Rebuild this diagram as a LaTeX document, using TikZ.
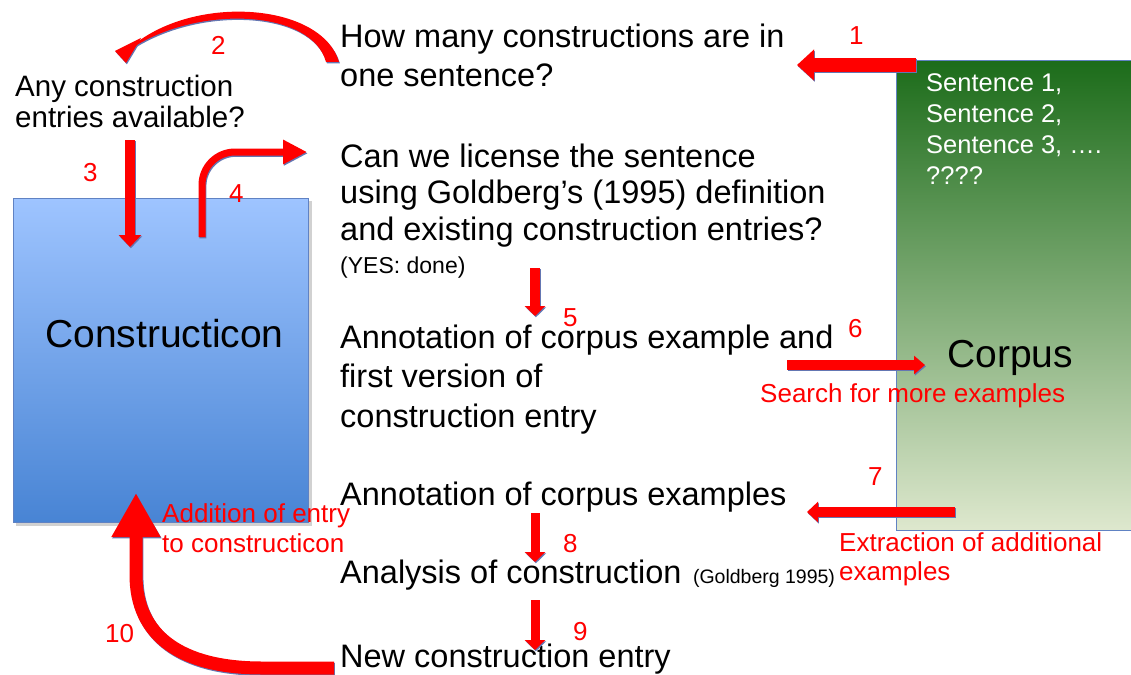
\documentclass[tikz,border=0pt]{standalone}
\usepackage{fontspec}
\setmainfont{Liberation Sans}
\usetikzlibrary{arrows.meta}

\definecolor{arrowred}{RGB}{255,0,0}
\definecolor{edgeblue}{RGB}{96,130,195}
\definecolor{shadowcol}{RGB}{100,118,178}
\definecolor{ctop}{RGB}{158,196,255}
\definecolor{cbot}{RGB}{72,132,212}
\definecolor{gtop}{RGB}{28,108,26}
\definecolor{gmid}{RGB}{138,178,98}
\definecolor{gbot}{RGB}{222,232,206}

% several lines in one box; the box baseline is that of the first line
\newcommand\mlines[2]{\vtop{\baselineskip=#1\relax\lineskiplimit=-100pt\lineskip=0pt #2}}

% red block arrow with a thin bluish shadow edge
\newcommand\blockarrow[4]{%
  \draw[shadowcol, line width=#1, -{Triangle[width=#2, length=#3]},
        transform canvas={shift={(0.9,1.3)}}] #4;
  \draw[arrowred, line width=#1, -{Triangle[width=#2, length=#3]}] #4;
}

\tikzset{
  txt/.style={anchor=base west, inner sep=0pt, font=\fontsize{32.5}{38}\selectfont},
  smalltxt/.style={anchor=base west, inner sep=0pt},
  redtxt/.style={anchor=base west, inner sep=0pt, text=arrowred, font=\fontsize{26}{30}\selectfont},
  num/.style={redtxt},
  bigtxt/.style={anchor=base west, inner sep=0pt, font=\fontsize{39}{45}\selectfont},
  boxnode/.style={anchor=north west, inner sep=0pt, draw=edgeblue, line width=0.9pt}
}

\begin{document}
\begin{tikzpicture}[x=1pt, y=-1pt]
\useasboundingbox (0,0) rectangle (1131,674);

% ---------- the two stores ----------
\fill[black, opacity=0.18] (16,201) rectangle (312,526);
\node[boxnode, top color=ctop, bottom color=cbot,
      minimum width=295pt, minimum height=324pt] (cbox) at (13,198) {};
\node[bigtxt] (clabel) at (45,347) {Constructicon};

\node[boxnode, top color=gtop, middle color=gmid, bottom color=gbot,
      minimum width=245pt, minimum height=470pt] (kbox) at (896,60) {};
\node[bigtxt] (klabel) at (947,367) {Corpus};
\node[anchor=base west, inner sep=0pt, text=white, font=\fontsize{25.5}{31}\selectfont]
  (sents) at (926,92) {\mlines{31pt}{\hbox{Sentence 1,}\hbox{Sentence 2,}\hbox{Sentence 3, ….}\hbox{????}}};

% ---------- workflow steps ----------
\node[txt] (q1) at (340,48) {\mlines{39pt}{\hbox{How many constructions are in}\hbox{one sentence?}}};
\node[txt, font=\fontsize{29.5}{33}\selectfont] (q2) at (15,97)
  {\mlines{31pt}{\hbox{Any construction}\hbox{entries available?}}};
\node[txt] (q4) at (340,167) {\mlines{36.5pt}{\hbox{Can we license the sentence}\hbox{using Goldberg’s (1995) definition}\hbox{and existing construction entries?}}};
\node[smalltxt, font=\fontsize{23}{26}\selectfont] (yes) at (340,273) {(YES: done)};
\node[txt] (q5) at (340,348) {\mlines{39.5pt}{\hbox{Annotation of corpus example and}\hbox{first version of}\hbox{construction entry}}};
\node[txt] (q7) at (340,505) {Annotation of corpus examples};
\node[txt] (q8) at (340,583) {Analysis of construction};
\node[smalltxt, font=\fontsize{19.5}{22}\selectfont] (gb) at ([xshift=11pt]q8.base east) {(Goldberg 1995)};
\node[txt] (q9) at (340,667) {New construction entry};

% ---------- red annotations ----------
\node[redtxt] (l6) at (760,402) {Search for more examples};
\node[redtxt] (l7) at (839,551) {\mlines{29pt}{\hbox{Extraction of additional}\hbox{examples}}};
\node[redtxt] (l10) at (162,522) {\mlines{30pt}{\hbox{Addition of entry}\hbox{to constructicon}}};

\node[num] (n1) at (849,45) {1};
\node[num] (n2) at (211,55) {2};
\node[num] (n3) at (83,181) {3};
\node[num] (n4) at (229,202) {4};
\node[num] (n5) at (563,326) {5};
\node[num] (n6) at (848,337) {6};
\node[num] (n7) at (868,485) {7};
\node[num] (n8) at (563,552) {8};
\node[num] (n9) at (573,640) {9};
\node[num] (n10) at (105,642) {10};

% ---------- arrow end points ----------
\coordinate (a1s) at (916,65);  \coordinate (a1e) at (797,65);
\coordinate (a3s) at (130,140); \coordinate (a3e) at (130,247);
\coordinate (a4s) at (202,237); \coordinate (a4c) at (202,152); \coordinate (a4e) at (307,152);
\coordinate (a5s) at (535,268); \coordinate (a5e) at (535,316);
\coordinate (a6s) at (787,365); \coordinate (a6e) at (925,365);
\coordinate (a7s) at (955,512); \coordinate (a7e) at (807,512);
\coordinate (a8s) at (535,513); \coordinate (a8e) at (535,562);
\coordinate (a9s) at (535,600); \coordinate (a9e) at (535,650);
\coordinate (a10s) at (334,668); \coordinate (a10m) at (262,668);
\coordinate (a10c) at (136,575); \coordinate (a10e) at (136,493);

% ---------- arrows ----------
\blockarrow{14pt}{30pt}{17pt}{(a1s) -- (a1e)}
\blockarrow{10pt}{22pt}{12pt}{(a3s) -- (a3e)}
\blockarrow{7pt}{23pt}{24pt}{[rounded corners=33pt] (a4s) -- (a4c) -- (a4e)}
\blockarrow{10pt}{20pt}{10pt}{(a5s) -- (a5e)}
\blockarrow{10pt}{18pt}{11pt}{(a6s) -- (a6e)}
\blockarrow{10pt}{20pt}{11pt}{(a7s) -- (a7e)}
\blockarrow{9pt}{20pt}{10pt}{(a8s) -- (a8e)}
\blockarrow{9pt}{20pt}{10pt}{(a9s) -- (a9e)}
\blockarrow{13pt}{46pt}{44pt}{(a10s) -- (a10m) .. controls (180,668) and (136,635) .. (a10c) -- (a10e)}

% tapered curved arrow (step 2)
\begin{scope}[transform canvas={shift={(0.9,1.3)}}]
  \fill[shadowcol] (339,62) .. controls (322,4) and (200,-6) .. (136,43)
    -- (132,48) .. controls (200,4) and (312,10) .. (326,62) -- cycle;
  \fill[shadowcol] (141,38) -- (115,51) -- (126,63) -- cycle;
\end{scope}
\fill[arrowred] (339,62) .. controls (322,4) and (200,-6) .. (136,43)
  -- (132,48) .. controls (200,4) and (312,10) .. (326,62) -- cycle;
\fill[arrowred] (141,38) -- (115,51) -- (126,63) -- cycle;
\end{tikzpicture}
\end{document}
